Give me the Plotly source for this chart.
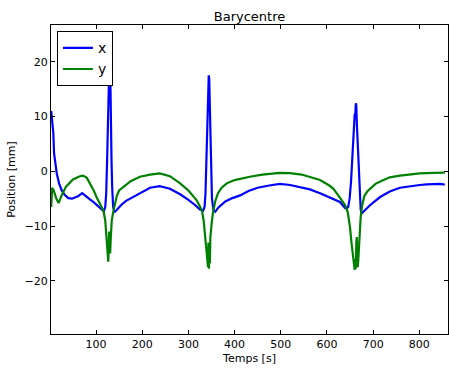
import plotly.graph_objects as go

# ---- data ----
t_x = [3, 5, 7.6, 9.1, 12, 15, 20, 25.8, 32, 40, 48, 55, 62, 70, 78, 86, 94, 103, 112, 117,
       120, 122, 124, 126, 127, 127.5, 128.5, 129.5, 130.5, 131, 132, 133.5, 135, 137, 140,
       145, 155, 165, 180, 195, 217, 238, 260, 282, 300, 315, 325, 332,
       335, 337, 339, 341, 342, 343, 344, 345, 346, 347.5, 349, 351, 354, 358,
       365, 380, 395, 412, 430, 450, 475, 498, 520, 545, 563, 585, 605, 628, 639, 643,
       646, 649, 652, 655, 658, 660, 661, 662.5, 663.5, 664.5, 666, 668, 670, 673, 675,
       680, 693, 715, 736, 758, 780, 801, 816, 835, 845, 855]
x_vals = [11, 9, 6.9, 3.3, 1.2, -0.4, -2.2, -3.5, -4.3, -4.9, -5.0, -4.8, -4.5, -4.0, -4.6, -5.1, -5.6, -6.3, -7.0, -7.3,
          -6.5, -4, 2, 10, 13.5, 13, 20, 22, 20, 14, 10, 2, -3, -6.5, -7.5,
          -7.0, -6.1, -5.4, -4.7, -4.0, -3.0, -2.7, -3.2, -4.2, -5.2, -6.2, -7.0, -7.2,
          -6.5, -4, 2, 8, 13, 12.5, 17.5, 17, 12, 5, -1, -5, -7, -7.4,
          -6.6, -5.5, -4.9, -4.4, -3.6, -3.0, -2.6, -2.3, -2.5, -2.9, -3.3, -4.0, -4.8, -5.6, -6.7, -6.8,
          -6.5, -5, -2, 3, 8, 10.5, 10, 12.4, 12, 9, 6, 0, -4, -7, -7.7,
          -7.3, -6.2, -4.7, -3.7, -3.0, -2.7, -2.5, -2.4, -2.3, -2.3, -2.45]

t_y = [3, 5, 8, 14, 19, 25, 35, 50, 65, 72, 80, 88, 95, 101, 108, 116,
       120, 122.5, 125, 126.5, 127.5, 128.5, 129.5, 130.5, 132, 134, 137, 141, 145, 150, 159,
       175, 195, 217, 238, 260, 282, 300, 318, 329,
       333, 336, 339, 341, 342.5, 343.5, 344.5, 345.5, 346.5, 347.5, 349, 351, 353, 358, 364, 372,
       383, 400, 433, 460, 498, 520, 545, 563, 585, 605, 614, 628, 635, 640,
       645, 649.8, 653, 656, 658, 660, 661.5, 662.5, 663.5, 664.5, 665.5, 666.5, 667.8, 669, 671,
       673, 676, 681, 687, 693, 705, 720, 736, 758, 780, 801, 830, 855]
y_vals = [-6.5, -3.0, -3.4, -5.0, -5.8, -4.5, -2.8, -1.5, -0.9, -0.8, -1.2, -2.4, -3.5, -4.7, -6.0, -7.2,
          -9, -12, -15, -16.5, -14, -11, -13.5, -15, -12, -9, -7.5, -6.0, -4.5, -3.5, -2.9,
          -1.8, -1.0, -0.6, -0.4, -0.9, -2.2, -3.5, -5.3, -7.1,
          -9, -12, -15, -16.5, -17.5, -13, -17.8, -14, -16.8, -12, -10, -9, -7.7, -5.5, -4.0, -3.0,
          -2.2, -1.6, -1.0, -0.6, -0.3, -0.35, -0.6, -1.0, -1.6, -2.6, -3.2, -4.8, -5.8, -6.3,
          -7.5, -10.2, -13, -15.5, -17, -18, -16, -17.8, -13, -12, -15, -17.5, -16.2, -14, -11,
          -8.3, -6.3, -4.5, -3.7, -3.2, -2.3, -1.7, -1.1, -0.8, -0.55, -0.4, -0.3, -0.25]

x_ticks = [100, 200, 300, 400, 500, 600, 700, 800]
y_ticks = [-20, -10, 0, 10, 20]

FONT = "DejaVu Sans"

fig = go.Figure()
fig.add_trace(go.Scatter(x=t_x, y=x_vals, mode="lines", name="x",
                         line=dict(color="#0000ff", width=2.2)))
fig.add_trace(go.Scatter(x=t_y, y=y_vals, mode="lines", name="y",
                         line=dict(color="#008000", width=2.2)))

axis_common = dict(showline=True, linecolor="black", linewidth=1, mirror="ticks",
                   ticks="inside", ticklen=4, tickcolor="black", showgrid=False,
                   zeroline=False, tickfont=dict(family=FONT, size=11, color="black"))

fig.update_layout(
    width=449, height=368,
    margin=dict(l=51, r=1, t=25, b=34),
    paper_bgcolor="white", plot_bgcolor="white",
    font=dict(family=FONT, color="black"),
    title=dict(text="Barycentre", x=0.5, xref="paper", y=1 - 16 / 368, yref="container",
               yanchor="middle", xanchor="center",
               font=dict(family=FONT, size=13, color="black")),
    xaxis=dict(range=[2.5, 862], tickvals=x_ticks,
               title=dict(text="Temps [s]", font=dict(family=FONT, size=11), standoff=4),
               **axis_common),
    yaxis=dict(range=[-29.7, 26.7], tickvals=y_ticks,
               title=dict(text="Position [mm]", font=dict(family=FONT, size=11), standoff=6),
               **axis_common),
    legend=dict(x=0.015, y=0.98, xanchor="left", yanchor="top",
                bgcolor="white", bordercolor="black", borderwidth=1,
                font=dict(family=FONT, size=14, color="black"),
                tracegroupgap=0),
    showlegend=True,
)

fig.write_html("out.html", config={"displayModeBar": False},
               post_script="document.body.style.margin='0';document.body.style.overflow='hidden';")
